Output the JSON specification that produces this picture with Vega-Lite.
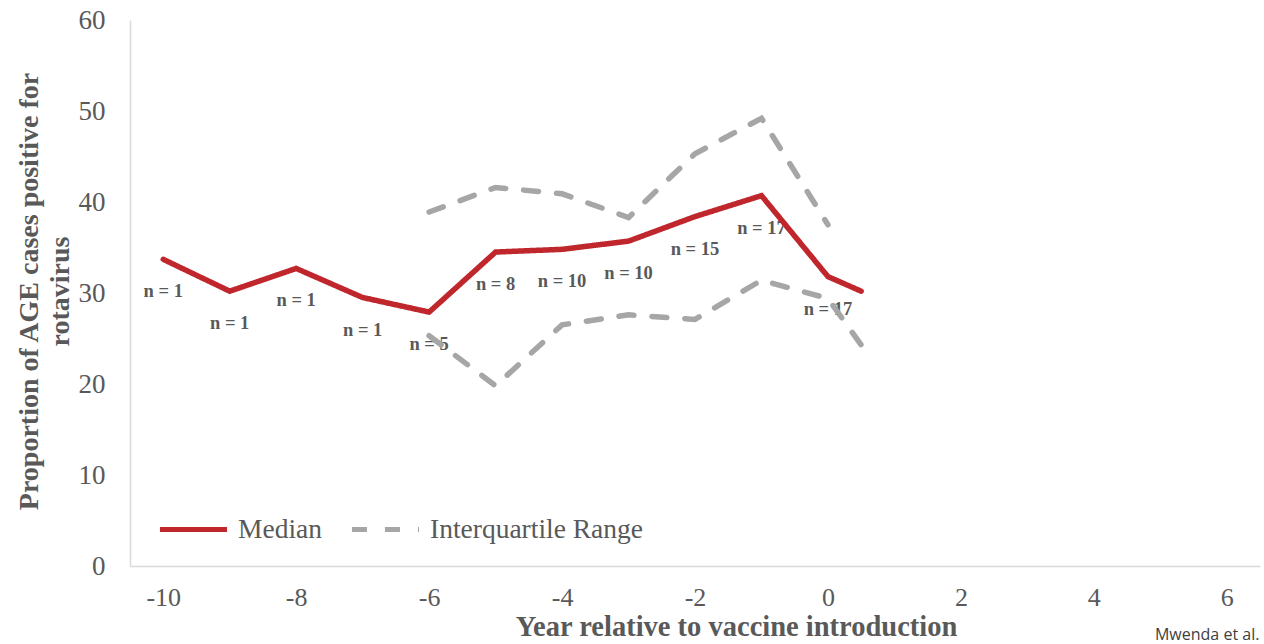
{
  "$schema": "https://vega.github.io/schema/vega-lite/v6.json",
  "width": 1130,
  "height": 546,
  "autosize": {"type": "none"},
  "padding": {"left": 130, "top": 20, "right": 4, "bottom": 78},
  "background": "white",
  "config": {"view": {"stroke": null}, "font": "Liberation Serif"},
  "datasets": {
    "lines": [
      {"year": -10, "value": 33.7, "series": "Median", "line": "median"},
      {"year": -9, "value": 30.2, "series": "Median", "line": "median"},
      {"year": -8, "value": 32.7, "series": "Median", "line": "median"},
      {"year": -7, "value": 29.5, "series": "Median", "line": "median"},
      {"year": -6, "value": 27.9, "series": "Median", "line": "median"},
      {"year": -5, "value": 34.5, "series": "Median", "line": "median"},
      {"year": -4, "value": 34.8, "series": "Median", "line": "median"},
      {"year": -3, "value": 35.7, "series": "Median", "line": "median"},
      {"year": -2, "value": 38.4, "series": "Median", "line": "median"},
      {"year": -1, "value": 40.7, "series": "Median", "line": "median"},
      {"year": 0, "value": 31.8, "series": "Median", "line": "median"},
      {"year": 0.5, "value": 30.2, "series": "Median", "line": "median"},
      {"year": -6, "value": 38.9, "series": "Interquartile Range", "line": "upper"},
      {"year": -5, "value": 41.6, "series": "Interquartile Range", "line": "upper"},
      {"year": -4, "value": 40.9, "series": "Interquartile Range", "line": "upper"},
      {"year": -3, "value": 38.3, "series": "Interquartile Range", "line": "upper"},
      {"year": -2, "value": 45.3, "series": "Interquartile Range", "line": "upper"},
      {"year": -1, "value": 49.2, "series": "Interquartile Range", "line": "upper"},
      {"year": 0, "value": 37.5, "series": "Interquartile Range", "line": "upper"},
      {"year": -6, "value": 25.3, "series": "Interquartile Range", "line": "lower"},
      {"year": -5, "value": 19.8, "series": "Interquartile Range", "line": "lower"},
      {"year": -4, "value": 26.5, "series": "Interquartile Range", "line": "lower"},
      {"year": -3, "value": 27.6, "series": "Interquartile Range", "line": "lower"},
      {"year": -2, "value": 27.1, "series": "Interquartile Range", "line": "lower"},
      {"year": -1, "value": 31.4, "series": "Interquartile Range", "line": "lower"},
      {"year": 0, "value": 29.4, "series": "Interquartile Range", "line": "lower"},
      {"year": 0.5, "value": 24.3, "series": "Interquartile Range", "line": "lower"}
    ],
    "labels": [
      {"year": -10, "value": 33.7, "label": "n = 1"},
      {"year": -9, "value": 30.2, "label": "n = 1"},
      {"year": -8, "value": 32.7, "label": "n = 1"},
      {"year": -7, "value": 29.5, "label": "n = 1"},
      {"year": -6, "value": 27.9, "label": "n = 5"},
      {"year": -5, "value": 34.5, "label": "n = 8"},
      {"year": -4, "value": 34.8, "label": "n = 10"},
      {"year": -3, "value": 35.7, "label": "n = 10"},
      {"year": -2, "value": 38.4, "label": "n = 15"},
      {"year": -1, "value": 40.7, "label": "n = 17"},
      {"year": 0, "value": 31.8, "label": "n = 17"}
    ],
    "source": [{"text": "Mwenda et al."}]
  },
  "layer": [
    {
      "data": {"name": "labels"},
      "mark": {"type": "text", "dy": 32, "font": "Liberation Serif", "fontWeight": "bold", "fontSize": 18.5, "color": "#595959", "baseline": "middle", "align": "center"},
      "encoding": {
        "x": {"field": "year", "type": "quantitative", "scale": {"domain": [-10.5, 6.5], "nice": false, "zero": false}},
        "y": {"field": "value", "type": "quantitative", "scale": {"domain": [0, 60], "nice": false}},
        "text": {"field": "label", "type": "nominal"}
      }
    },
    {
      "data": {"name": "lines"},
      "mark": {"type": "line", "strokeWidth": 5.5, "strokeCap": "round", "strokeJoin": "miter"},
      "encoding": {
        "x": {
          "field": "year", "type": "quantitative",
          "scale": {"domain": [-10.5, 6.5], "nice": false, "zero": false},
          "axis": {
            "values": [-10, -8, -6, -4, -2, 0, 2, 4, 6],
            "labelExpr": "'' + datum.value",
            "grid": false, "ticks": false,
            "domainColor": "#D9D9D9", "domainWidth": 1.5,
            "labelFont": "Liberation Serif", "labelFontSize": 26, "labelColor": "#595959",
            "labelPadding": 18, "labelFlush": false,
            "title": "Year relative to vaccine introduction",
            "titleFont": "Liberation Serif", "titleFontSize": 28.5, "titleFontWeight": "bold", "titleColor": "#595959",
            "titleX": 606, "titleY": 69, "titleBaseline": "alphabetic", "titleAlign": "center", "titleAnchor": null
          }
        },
        "y": {
          "field": "value", "type": "quantitative",
          "scale": {"domain": [0, 60], "nice": false},
          "axis": {
            "values": [0, 10, 20, 30, 40, 50, 60],
            "grid": false, "ticks": false,
            "domainColor": "#D9D9D9", "domainWidth": 1.5,
            "labelFont": "Liberation Serif", "labelFontSize": 27, "labelColor": "#595959",
            "labelPadding": 25,
            "title": ["Proportion of AGE cases positive for", "rotavirus"],
            "titleFont": "Liberation Serif", "titleFontSize": 28, "titleFontWeight": "bold", "titleColor": "#595959",
            "titleLineHeight": 31,
            "titleAngle": -90, "titleX": -101, "titleY": 271, "titleBaseline": "middle", "titleAlign": "center"
          }
        },
        "color": {
          "field": "series", "type": "nominal",
          "scale": {"domain": ["Median", "Interquartile Range"], "range": ["#C0272D", "#A6A6A6"]},
          "legend": {
            "orient": "none", "legendX": 27, "legendY": 473, "direction": "horizontal",
            "title": null, "symbolType": "stroke", "symbolSize": 4500, "symbolStrokeWidth": 5,
            "labelFont": "Liberation Serif", "labelFontSize": 27.5, "labelColor": "#595959",
            "labelOffset": 8, "columnPadding": 18, "labelLimit": 0
          }
        },
        "strokeDash": {
          "field": "series", "type": "nominal",
          "scale": {"domain": ["Median", "Interquartile Range"], "range": [[1, 0], [15, 18]]},
          "legend": {
            "orient": "none", "legendX": 27, "legendY": 473, "direction": "horizontal",
            "title": null, "symbolType": "stroke", "symbolSize": 4500, "symbolStrokeWidth": 5,
            "labelFont": "Liberation Serif", "labelFontSize": 27.5, "labelColor": "#595959",
            "labelOffset": 8, "columnPadding": 18, "labelLimit": 0
          }
        },
        "detail": {"field": "line", "type": "nominal"}
      }
    },
    {
      "data": {"name": "source"},
      "mark": {"type": "text", "align": "left", "baseline": "bottom", "dy": 77, "font": "Open Sans", "fontSize": 16, "color": "#404040", "clip": false},
      "encoding": {
        "x": {"datum": 4.92, "type": "quantitative"},
        "y": {"datum": 0, "type": "quantitative"},
        "text": {"field": "text", "type": "nominal"}
      }
    }
  ]
}
